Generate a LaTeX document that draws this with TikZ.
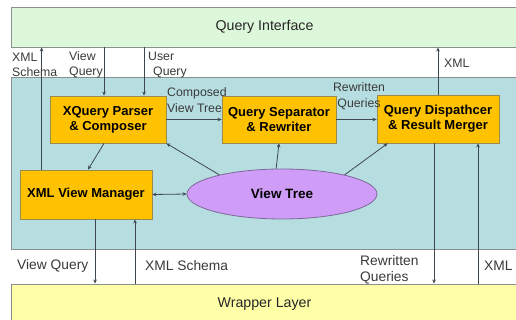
\documentclass[tikz,border=0pt]{standalone}
\usepackage{fontspec}
\setmainfont{Liberation Sans}
\usetikzlibrary{arrows.meta,shapes.geometric}
\definecolor{qifill}{HTML}{DDF7DA}
\definecolor{corefill}{HTML}{B6DEE1}
\definecolor{wrapfill}{HTML}{FFFFA8}
\definecolor{layerline}{HTML}{8A9090}
\definecolor{procfill}{HTML}{FFC200}
\definecolor{procline}{HTML}{9A8A50}
\definecolor{treefill}{HTML}{CF9DF7}
\definecolor{treeline}{HTML}{7E6A9A}
\definecolor{wire}{HTML}{3E4850}
\definecolor{labeltext}{HTML}{3A3A3A}
\begin{document}
\begin{tikzpicture}[x=1pt,y=-1pt,
  layer/.style={draw=layerline, line width=0.9pt, minimum width=507pt, inner sep=0pt,
    text=black!85, font=\fontsize{14.2}{16}\selectfont},
  proc/.style={draw=procline, fill=procfill, line width=0.8pt, align=center, inner sep=0pt,
    font=\bfseries\fontsize{13}{15.3}\selectfont},
  lbl/.style={text=labeltext, font=\fontsize{12.3}{15.3}\selectfont, align=left, inner sep=0pt, anchor=west},
  biglbl/.style={text=labeltext, font=\fontsize{13.8}{16}\selectfont, align=left, inner sep=0pt, anchor=west},
  arr/.style={draw=wire, line width=0.8pt, -{Stealth[length=4pt,width=3.6pt]}},
  darr/.style={draw=wire, line width=0.8pt, {Stealth[length=4pt,width=3.6pt]}-{Stealth[length=4pt,width=3.6pt]}}]
  \useasboundingbox (0,0) rectangle (516,320);
  \fill[white] (0,0) rectangle (516,320);

  % layers
  \node[layer, fill=qifill, minimum height=40pt] (qi) at (264.5,27) {Query Interface};
  \node[layer, fill=corefill, minimum height=172pt] (core) at (264.5,163) {};
  \node[layer, fill=wrapfill, minimum height=40pt] (wr) at (264.5,304) {Wrapper Layer};

  % components
  \node[proc, minimum width=116pt, minimum height=47pt] (parser) at (108,119.5) {XQuery Parser\\\& Composer};
  \node[proc, minimum width=114pt, minimum height=47pt] (sep) at (279,119.5) {Query Separator\\\& Rewriter};
  \node[proc, minimum width=122pt, minimum height=48pt] (disp) at (438,119) {Query Dispathcer\\\& Result Merger};
  \node[proc, minimum width=132pt, minimum height=49pt] (vm) at (86,194.5) {XML View Manager};
  \node[ellipse, draw=treeline, fill=treefill, line width=0.8pt, minimum width=190pt, minimum height=50pt,
    inner sep=0pt, font=\bfseries\fontsize{13.5}{16}\selectfont] (vt) at (282,194) {View Tree};

  % connectors to and from the query interface
  \draw[arr] ([xshift=22pt]vm.north west) -- ([xshift=22pt]vm.north west |- qi.south);
  \draw[arr] ([xshift=-4pt]parser.north |- qi.south) -- ([xshift=-4pt]parser.north);
  \draw[arr] ([xshift=36pt]parser.north |- qi.south) -- ([xshift=36pt]parser.north);
  \draw[arr] (disp.north) -- (disp.north |- qi.south);

  % inside the core
  \draw[arr] (parser.east) -- (parser.east -| sep.west);
  \draw[arr] (sep.east) -- (sep.east -| disp.west);
  \draw[arr] ([xshift=-4pt]parser.south) -- ([xshift=2pt]vm.north);
  \draw[arr] (vt.163) -- (parser.south east);
  \draw[arr] (vt.103) -- (sep.south);
  \draw[arr] (vt.17) -- ([xshift=11pt]disp.south west);
  \draw[darr] (vm.east) -- (vt.west);

  % connectors to and from the wrapper layer
  \draw[arr] ([xshift=9pt]vm.south) -- ([xshift=9pt]vm.south |- wr.north);
  \draw[arr] ([xshift=49pt]vm.south |- wr.north) -- ([xshift=49pt]vm.south);
  \draw[arr] ([xshift=-4pt]disp.south) -- ([xshift=-4pt]disp.south |- wr.north);
  \draw[arr] ([xshift=40pt]disp.south |- wr.north) -- ([xshift=40pt]disp.south);

  % labels
  \node[lbl] (l1) at (12,65) {XML\\Schema};
  \node[lbl] (l2) at (69,65) {View\\Query};
  \node[lbl] (l3) at (148,65) {User\\\hspace*{5pt}Query};
  \node[lbl] (l4) at (167,100) {Composed\\View Tree};
  \node[lbl, align=center, anchor=center] (l5) at (359,96.3) {Rewritten\\Queries};
  \node[lbl] (l6) at (444,63) {XML};
  \node[biglbl] (l7) at (17,266) {View Query};
  \node[biglbl] (l8) at (145,266) {XML Schema};
  \node[biglbl] (l9) at (360,270) {Rewritten\\Queries};
  \node[biglbl] (l10) at (484,266) {XML};
\end{tikzpicture}
\end{document}
